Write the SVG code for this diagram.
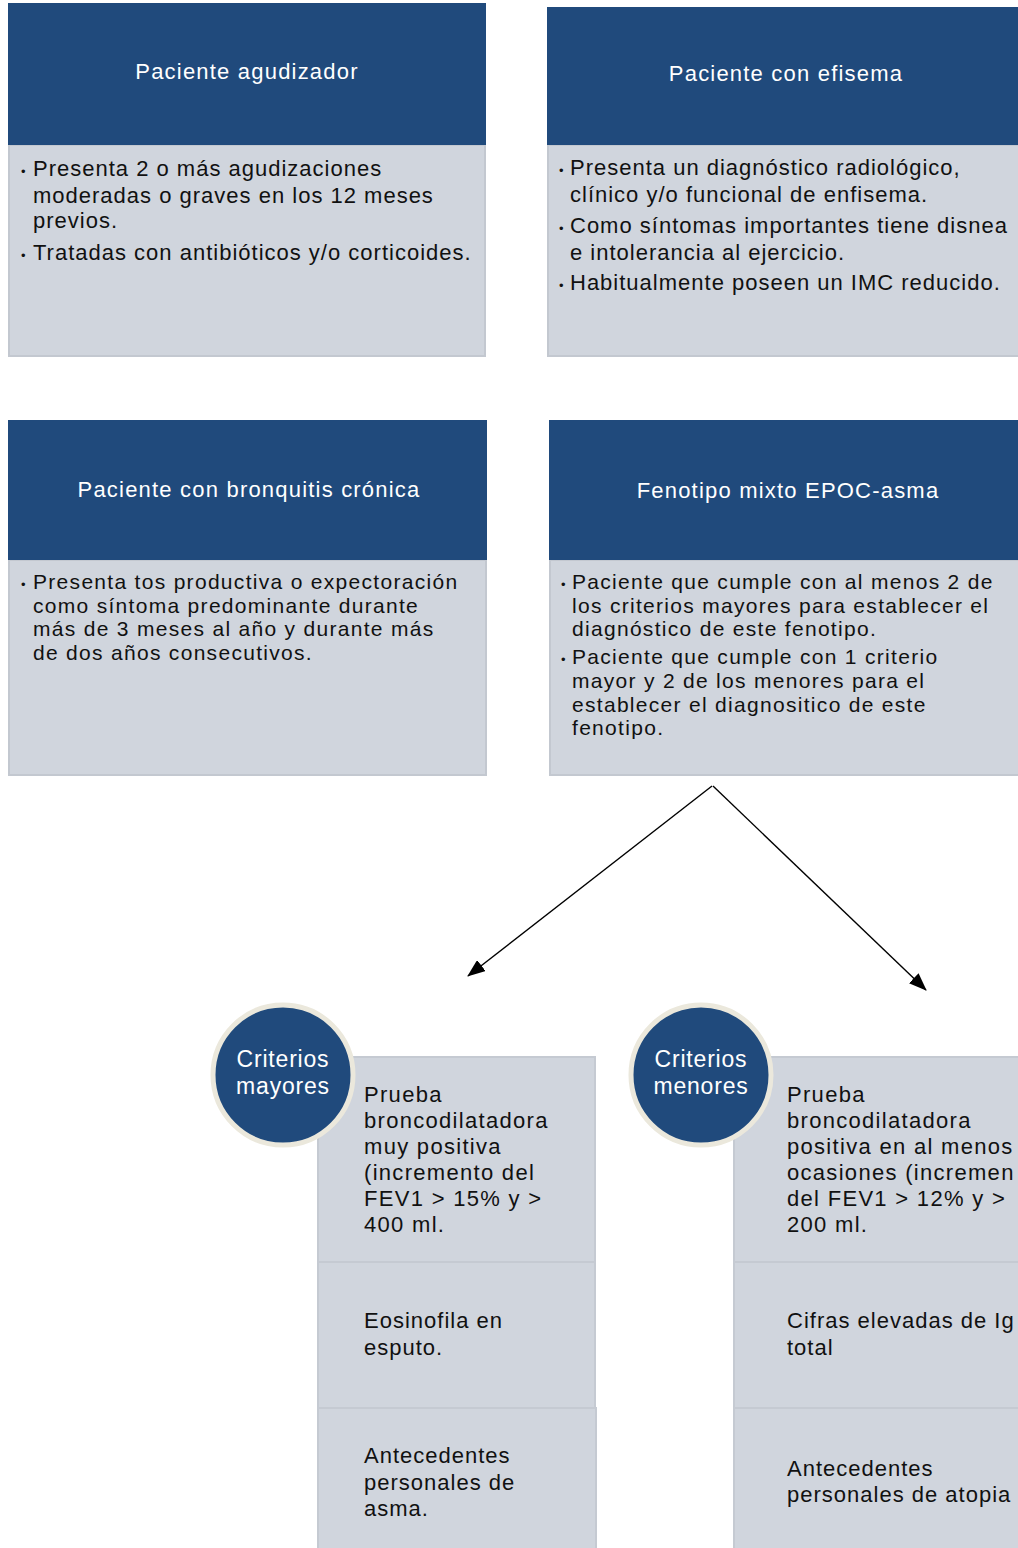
<svg xmlns="http://www.w3.org/2000/svg" width="1018" height="1548" viewBox="0 0 1018 1548">
<defs>
<marker id="arr" markerWidth="18" markerHeight="14" refX="17" refY="7" orient="auto" markerUnits="userSpaceOnUse" viewBox="0 0 18 14">
<path d="M0,0 L18,7 L0,14 z" fill="#000"/>
</marker>
<style>
.hd{fill:#204a7c}
.bd{fill:#d0d5dd;stroke:#c3c8d0;stroke-width:2}
.ht{font-family:"Liberation Sans",Arial,sans-serif;font-size:22px;fill:#fff;text-anchor:middle;letter-spacing:1.2px}
.bt{font-family:"Liberation Sans",Arial,sans-serif;font-size:22px;fill:#111;letter-spacing:1px}
.bt2{font-family:"Liberation Sans",Arial,sans-serif;font-size:21px;fill:#111;letter-spacing:1.3px}
.bu{font-size:13px}
.cc{fill:#204a7c;stroke:#ebe8dc;stroke-width:5}
.ct{font-family:"Liberation Sans",Arial,sans-serif;font-size:23px;fill:#fff;text-anchor:middle;letter-spacing:0.8px}
.cell{fill:#d0d5dd;stroke:#c5cad2;stroke-width:2}
.ctx{font-family:"Liberation Sans",Arial,sans-serif;font-size:22px;fill:#111;letter-spacing:1.3px}
.ctx2{font-family:"Liberation Sans",Arial,sans-serif;font-size:22px;fill:#111;letter-spacing:1px}
.ln{stroke:#000;stroke-width:1.4;fill:none}
</style>
</defs>
<rect width="1018" height="1548" fill="#fff"/>

<g id="agudizador">
<rect class="bd" x="9" y="145" width="476" height="211"/>
<rect class="hd" x="8" y="3" width="478" height="142"/>
<text class="ht" x="247" y="79">Paciente agudizador</text>
<text class="bt"><tspan x="21" y="176" class="bu">•</tspan><tspan x="33" y="176">Presenta 2 o más agudizaciones</tspan><tspan x="33" y="203">moderadas o graves en los 12 meses</tspan><tspan x="33" y="228">previos.</tspan><tspan x="21" y="260" class="bu">•</tspan><tspan x="33" y="260">Tratadas con antibióticos y/o corticoides.</tspan></text>
</g>

<g id="enfisema">
<rect class="bd" x="548" y="145" width="480" height="211"/>
<rect class="hd" x="547" y="7" width="481" height="138"/>
<text class="ht" x="786" y="81">Paciente con efisema</text>
<text class="bt"><tspan x="559" y="175" class="bu">•</tspan><tspan x="570" y="175">Presenta un diagnóstico radiológico,</tspan><tspan x="570" y="202">clínico y/o funcional de enfisema.</tspan><tspan x="559" y="233" class="bu">•</tspan><tspan x="570" y="233">Como síntomas importantes tiene disnea</tspan><tspan x="570" y="260">e intolerancia al ejercicio.</tspan><tspan x="559" y="290" class="bu">•</tspan><tspan x="570" y="290">Habitualmente poseen un IMC reducido.</tspan></text>
</g>

<g id="bronquitis">
<rect class="bd" x="9" y="560" width="477" height="215"/>
<rect class="hd" x="8" y="420" width="479" height="140"/>
<text class="ht" x="249" y="497">Paciente con bronquitis crónica</text>
<text class="bt2"><tspan x="21" y="589" class="bu">•</tspan><tspan x="33" y="589">Presenta tos productiva o expectoración</tspan><tspan x="33" y="613">como síntoma predominante durante</tspan><tspan x="33" y="636">más de 3 meses al año y durante más</tspan><tspan x="33" y="660">de dos años consecutivos.</tspan></text>
</g>

<g id="mixto">
<rect class="bd" x="550" y="560" width="478" height="215"/>
<rect class="hd" x="549" y="420" width="479" height="140"/>
<text class="ht" x="788" y="498">Fenotipo mixto EPOC-asma</text>
<text class="bt2"><tspan x="561" y="589" class="bu">•</tspan><tspan x="572" y="589">Paciente que cumple con al menos 2 de</tspan><tspan x="572" y="613">los criterios mayores para establecer el</tspan><tspan x="572" y="636">diagnóstico de este fenotipo.</tspan><tspan x="561" y="664" class="bu">•</tspan><tspan x="572" y="664">Paciente que cumple con 1 criterio</tspan><tspan x="572" y="688">mayor y 2 de los menores para el</tspan><tspan x="572" y="712">establecer el diagnositico de este</tspan><tspan x="572" y="735">fenotipo.</tspan></text>
</g>

<g id="connectors">
<line class="ln" x1="712" y1="786" x2="468" y2="976" marker-end="url(#arr)"/>
<line class="ln" x1="713" y1="786" x2="926" y2="990" marker-end="url(#arr)"/>
</g>

<g id="mayores">
<rect class="cell" x="318" y="1057" width="277" height="205"/>
<rect class="cell" x="318" y="1262" width="277" height="146"/>
<rect class="cell" x="318" y="1408" width="278" height="142"/>
<circle class="cc" cx="283" cy="1075" r="70"/>
<text class="ct"><tspan x="283" y="1067">Criterios</tspan><tspan x="283" y="1094">mayores</tspan></text>
<text class="ctx"><tspan x="364" y="1102">Prueba</tspan><tspan x="364" y="1128">broncodilatadora</tspan><tspan x="364" y="1154">muy positiva</tspan><tspan x="364" y="1180">(incremento del</tspan><tspan x="364" y="1206">FEV1 &gt; 15% y &gt;</tspan><tspan x="364" y="1232">400 ml.</tspan></text>
<text class="ctx2"><tspan x="364" y="1328">Eosinofila en</tspan><tspan x="364" y="1355">esputo.</tspan></text>
<text class="ctx2"><tspan x="364" y="1463">Antecedentes</tspan><tspan x="364" y="1490">personales de</tspan><tspan x="364" y="1516">asma.</tspan></text>
</g>

<g id="menores">
<rect class="cell" x="734" y="1057" width="300" height="205"/>
<rect class="cell" x="734" y="1262" width="300" height="146"/>
<rect class="cell" x="734" y="1408" width="300" height="142"/>
<circle class="cc" cx="701" cy="1075" r="70"/>
<text class="ct"><tspan x="701" y="1067">Criterios</tspan><tspan x="701" y="1094">menores</tspan></text>
<text class="ctx"><tspan x="787" y="1102">Prueba</tspan><tspan x="787" y="1128">broncodilatadora</tspan><tspan x="787" y="1154">positiva  en al menos</tspan><tspan x="787" y="1180">ocasiones (incremen</tspan><tspan x="787" y="1206">del FEV1 &gt; 12% y &gt;</tspan><tspan x="787" y="1232">200 ml.</tspan></text>
<text class="ctx2"><tspan x="787" y="1328">Cifras elevadas de Ig</tspan><tspan x="787" y="1355">total</tspan></text>
<text class="ctx2"><tspan x="787" y="1476">Antecedentes</tspan><tspan x="787" y="1502">personales de atopia</tspan></text>
</g>
</svg>
